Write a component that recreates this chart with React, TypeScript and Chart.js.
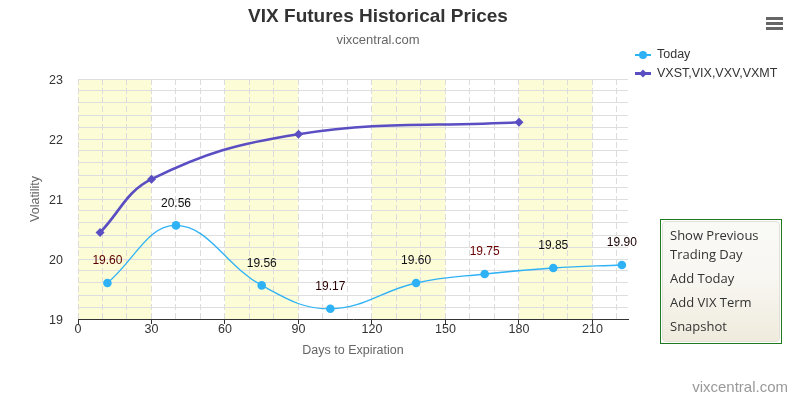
import React, { useEffect, useRef } from 'react';
import { Chart, registerables } from 'chart.js';

Chart.register(...registerables);

const chartTitle = 'VIX Futures Historical Prices';
const chartSubtitle = 'vixcentral.com';
const creditText = 'vixcentral.com';
const xAxisTitle = 'Days to Expiration';
const yAxisTitle = 'Volatility';

const todayName = 'Today';
const todayDays = [12, 40, 75, 103, 138, 166, 194, 222];
const todayValues = [19.6, 20.56, 19.56, 19.17, 19.6, 19.75, 19.85, 19.9];
const todayLabelColors = ['#5a0000', '#111', '#111', '#2a0000', '#111', '#6a0000', '#111', '#1a0000'];

const termName = 'VXST,VIX,VXV,VXMT';
const termDays = [9, 30, 90, 180];
const termValues = [20.44, 21.33, 22.08, 22.28];

const xMin = 0;
const xMax = 224.5;
const xMajorStep = 30;
const xMinorStep = 10;
const yMin = 19;
const yMax = 23;
const yMinorStep = 0.2;
const bandRanges = [
  [0, 30],
  [60, 90],
  [120, 150],
  [180, 210],
];
const menuItems = [['Show Previous', 'Trading Day'], ['Add Today'], ['Add VIX Term'], ['Snapshot']];

const TODAY_COLOR = '#2fb2f5';
const TERM_COLOR = '#5a4ec2';
const FONT = '"Liberation Sans", Arial, sans-serif';

const overlayPlugin = {
  id: 'overlay',
  beforeDraw(chart: any) {
    const { ctx, chartArea, scales } = chart;
    ctx.save();
    ctx.fillStyle = '#fcfcd6';
    bandRanges.forEach(([a, b]) => {
      const x1 = scales.x.getPixelForValue(a);
      const x2 = scales.x.getPixelForValue(b);
      ctx.fillRect(x1, chartArea.top, x2 - x1, chartArea.bottom - chartArea.top);
    });
    ctx.restore();
  },
  afterDraw(chart: any) {
    const { ctx } = chart;
    ctx.save();
    // title
    ctx.textAlign = 'center';
    ctx.textBaseline = 'middle';
    ctx.fillStyle = '#333';
    ctx.font = `bold 19px ${FONT}`;
    ctx.fillText(chartTitle, 378, 17);
    ctx.fillStyle = '#666';
    ctx.font = `13px ${FONT}`;
    ctx.fillText(chartSubtitle, 378, 40);
    // credits
    ctx.textAlign = 'right';
    ctx.fillStyle = '#999';
    ctx.font = `15px ${FONT}`;
    ctx.fillText(creditText, 788, 388);
    // hamburger
    ctx.fillStyle = '#666';
    [17, 22, 27].forEach((y) => ctx.fillRect(766, y, 17, 3));
    // data labels
    const meta = chart.getDatasetMeta(0);
    ctx.textAlign = 'center';
    ctx.font = `12px ${FONT}`;
    meta.data.forEach((pt: any, i: number) => {
      ctx.fillStyle = todayLabelColors[i];
      ctx.fillText(todayValues[i].toFixed(2), pt.x, pt.y - 22);
    });
    // legend
    const items = [
      { name: todayName, color: TODAY_COLOR, style: 'circle', y: 55, lw: 2 },
      { name: termName, color: TERM_COLOR, style: 'diamond', y: 73.5, lw: 3 },
    ];
    items.forEach((it) => {
      ctx.strokeStyle = it.color;
      ctx.lineWidth = it.lw;
      ctx.beginPath();
      ctx.moveTo(635, it.y);
      ctx.lineTo(651, it.y);
      ctx.stroke();
      ctx.fillStyle = it.color;
      ctx.beginPath();
      if (it.style === 'circle') {
        ctx.arc(643, it.y, 4, 0, Math.PI * 2);
      } else {
        ctx.moveTo(643, it.y - 4);
        ctx.lineTo(647, it.y);
        ctx.lineTo(643, it.y + 4);
        ctx.lineTo(639, it.y);
        ctx.closePath();
      }
      ctx.fill();
      ctx.fillStyle = '#333';
      ctx.textAlign = 'left';
      ctx.font = `12.5px ${FONT}`;
      ctx.fillText(it.name, 657, it.y);
    });
    ctx.restore();
  },
};

export default function App() {
  const canvasRef = useRef<HTMLCanvasElement | null>(null);

  useEffect(() => {
    document.body.style.margin = '0';
    const canvas = canvasRef.current;
    if (!canvas) return;
    const chart = new Chart(canvas, {
      type: 'line',
      data: {
        datasets: [
          {
            label: todayName,
            data: todayDays.map((d, i) => ({ x: d, y: todayValues[i] })),
            borderColor: TODAY_COLOR,
            backgroundColor: TODAY_COLOR,
            borderWidth: 1.3,
            pointRadius: 4.3,
            pointBorderWidth: 0,
            pointStyle: 'circle',
            tension: 0.4,
            fill: false,
          },
          {
            label: termName,
            data: termDays.map((d, i) => ({ x: d, y: termValues[i] })),
            borderColor: TERM_COLOR,
            backgroundColor: TERM_COLOR,
            borderWidth: 2.6,
            pointRadius: 4.5,
            pointBorderWidth: 0,
            pointStyle: 'rectRot',
            tension: 0.4,
            fill: false,
          },
        ],
      },
      plugins: [overlayPlugin],
      options: {
        animation: false,
        responsive: false,
        maintainAspectRatio: false,
        devicePixelRatio: 1,
        layout: { padding: { top: 79, right: 170, left: 0, bottom: 0 } },
        plugins: {
          legend: { display: false },
          title: { display: false },
          tooltip: { enabled: false },
        },
        scales: {
          x: {
            type: 'linear',
            min: xMin,
            max: xMax,
            afterFit: (s: any) => {
              s.height = 79;
            },
            afterBuildTicks: (s: any) => {
              const t = [];
              for (let v = xMin; v <= xMax; v += xMinorStep) t.push({ value: v });
              s.ticks = t;
            },
            grid: {
              color: '#dcdcdc',
              lineWidth: 1,
              drawTicks: true,
              tickLength: 5,
              tickColor: (c: any) => (c.tick && c.tick.value % xMajorStep === 0 ? '#333' : 'rgba(0,0,0,0)'),
            },
            border: { display: true, color: '#333', width: 1, dash: [6, 3] },
            ticks: {
              autoSkip: false,
              maxRotation: 0,
              padding: -2,
              color: '#333',
              font: { family: FONT, size: 12.5 },
              callback: (v: any) => (Number(v) % xMajorStep === 0 ? String(v) : ''),
            },
            title: {
              display: true,
              text: xAxisTitle,
              color: '#666',
              font: { family: FONT, size: 12.5 },
              padding: { top: 0, bottom: 40 },
            },
          },
          y: {
            type: 'linear',
            min: yMin,
            max: yMax,
            afterFit: (s: any) => {
              s.width = 78;
            },
            afterBuildTicks: (s: any) => {
              const t = [];
              const n = Math.round((yMax - yMin) / yMinorStep);
              for (let i = 0; i <= n; i++) t.push({ value: Math.round((yMin + i * yMinorStep) * 10) / 10 });
              s.ticks = t;
            },
            grid: { color: '#dedede', lineWidth: 1, drawTicks: false },
            border: { display: false },
            ticks: {
              autoSkip: false,
              padding: 15,
              labelOffset: 2,
              color: '#333',
              font: { family: FONT, size: 12.5 },
              callback: (v: any) => (Math.abs(v - Math.round(v)) < 1e-6 ? String(Math.round(v)) : ''),
            },
            title: {
              display: true,
              text: yAxisTitle,
              color: '#666',
              font: { family: FONT, size: 12.5 },
              padding: { top: 28, bottom: 0 },
            },
          },
        },
      },
    } as any);
    return () => chart.destroy();
  }, []);

  return (
    <div style={{ position: 'relative', width: 798, height: 398, background: '#fff' }}>
      <canvas ref={canvasRef} width={798} height={398} style={{ display: 'block', width: 798, height: 398 }} />
      <div
        style={{
          position: 'absolute',
          left: 660,
          top: 219,
          width: 122,
          height: 125,
          border: '1px solid #1f7a1f',
          padding: 1,
          boxSizing: 'border-box',
        }}
      >
        <div
          style={{
            width: '100%',
            height: '100%',
            boxSizing: 'border-box',
            borderRadius: 4,
            border: '1px solid #e2e0d8',
            background: 'linear-gradient(#f9f9f6, #f8f7f2 45%, #efebdd)',
            fontFamily: '"Open Sans", sans-serif',
            fontSize: 13,
            color: '#333',
            paddingLeft: 7,
            paddingTop: 4,
          }}
        >
          {menuItems.map((lines, i) => (
            <div key={i} style={{ marginBottom: 5 }}>
              {lines.map((l, j) => (
                <div key={j} style={{ lineHeight: '19px' }}>
                  {l}
                </div>
              ))}
            </div>
          ))}
        </div>
      </div>
    </div>
  );
}
